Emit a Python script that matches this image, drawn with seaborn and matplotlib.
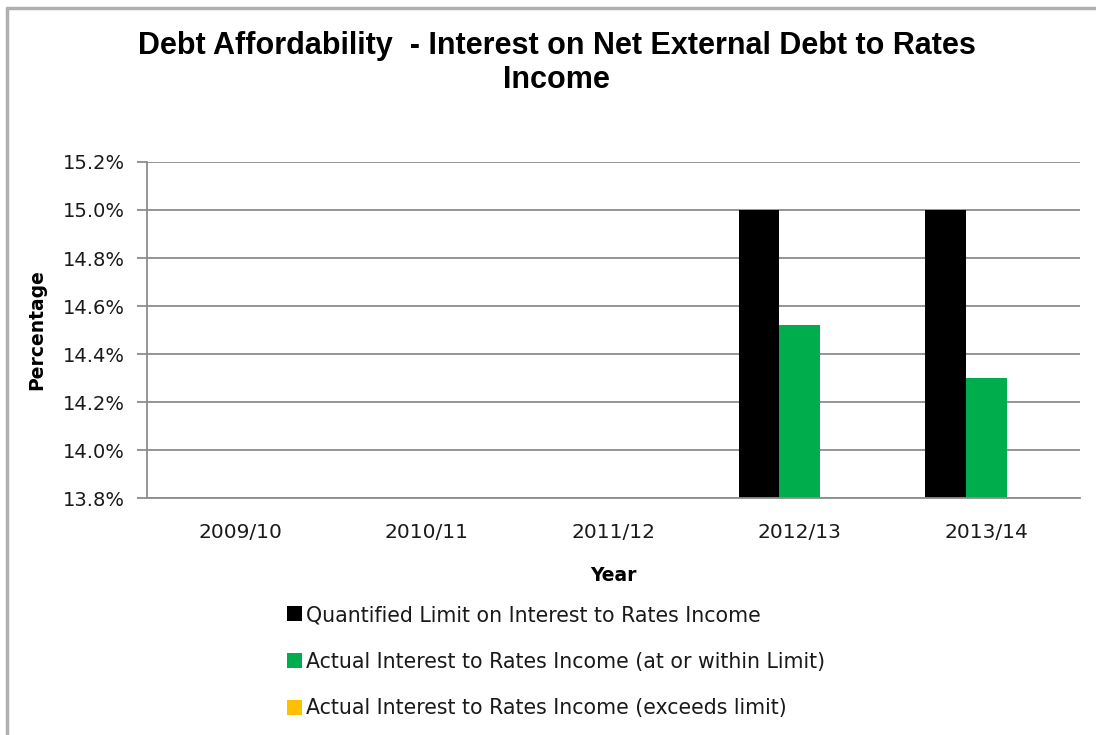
import matplotlib
matplotlib.use("Agg")
import matplotlib.pyplot as plt
from matplotlib.patches import Patch
from matplotlib.lines import Line2D
from matplotlib.ticker import FuncFormatter, MultipleLocator
import seaborn as sns
import pandas as pd
import numpy as np

years = ["2009/10", "2010/11", "2011/12", "2012/13", "2013/14"]
limit = [np.nan, np.nan, np.nan, 15.0, 15.0]
within_limit = [np.nan, np.nan, np.nan, 14.52, 14.30]
exceeds_limit = [np.nan, np.nan, np.nan, np.nan, np.nan]

series = [
    "Quantified Limit on Interest to Rates Income",
    "Actual Interest to Rates Income (at or within Limit)",
    "Actual Interest to Rates Income (exceeds limit)",
]
colors = ["#000000", "#00ad4d", "#ffc000"]

df = pd.DataFrame({
    "Year": years * 3,
    "Series": [series[0]] * 5 + [series[1]] * 5 + [series[2]] * 5,
    "Value": limit + within_limit + exceeds_limit,
})

sns.set_style("white")
plt.rcParams["font.family"] = ["DejaVu Sans"]
txt = "#1a1a1a"

fig = plt.figure(figsize=(10.96, 7.35), dpi=100)
ax = fig.add_axes([0.134, 0.3224, 0.851, 0.4572])

sns.barplot(data=df, x="Year", y="Value", hue="Series", order=years,
            hue_order=series, palette=colors, width=0.654, dodge=True,
            saturation=1, errorbar=None, legend=False, linewidth=0, ax=ax)

ax.set_ylim(13.8, 15.2)
ax.set_xlim(-0.5, 4.5)
ax.yaxis.set_major_locator(MultipleLocator(0.2))
ax.yaxis.set_major_formatter(FuncFormatter(lambda v, p: f"{v:.1f}%"))
ax.yaxis.grid(True, color="#8c8c8c", linewidth=1.3)
ax.set_axisbelow(True)

for s in ["top", "right"]:
    ax.spines[s].set_visible(False)
for s in ["left", "bottom"]:
    ax.spines[s].set_color("#8c8c8c")
    ax.spines[s].set_linewidth(1.3)

ax.set_xticks(range(len(years)))
ax.set_xticklabels(years, fontsize=14.5, color=txt)
ax.set_xticks(np.arange(-0.5, 5, 1), minor=True)
ax.tick_params(axis="x", which="major", length=0, pad=18)
ax.tick_params(axis="x", which="minor", length=7, width=1.3, color="#8c8c8c", direction="out")
ax.tick_params(axis="y", length=7, width=1.3, color="#8c8c8c", direction="out",
               labelsize=14, labelcolor=txt, left=True, pad=9)

ax.set_xlabel("Year", fontsize=13.5, fontweight="bold", labelpad=17, color="black")
ax.set_ylabel("Percentage", fontsize=13.5, fontweight="bold", labelpad=12, color="black")

fig.text(0.508, 0.958, "Debt Affordability  - Interest on Net External Debt to Rates\nIncome",
         ha="center", va="top", fontsize=22, fontweight="bold", color="black",
         family="Liberation Sans", linespacing=1.2)

handles = [Patch(facecolor=c, edgecolor="none") for c in colors]
fig.legend(handles, series, loc="upper left", bbox_to_anchor=(0.2545, 0.188),
           frameon=False, fontsize=14.8, handlelength=0.73, handleheight=0.73,
           handletextpad=0.2, labelspacing=1.3, borderaxespad=0, labelcolor=txt)

# chart-area border (top and left edges visible in the crop)
fig.add_artist(Line2D([0.006, 1.0], [0.989, 0.989], color="#b0b0b0", linewidth=2.5,
                      transform=fig.transFigure))
fig.add_artist(Line2D([0.006, 0.006], [0.0, 0.989], color="#b0b0b0", linewidth=2.5,
                      transform=fig.transFigure))

fig.savefig("out.png", dpi=100, facecolor="white")
